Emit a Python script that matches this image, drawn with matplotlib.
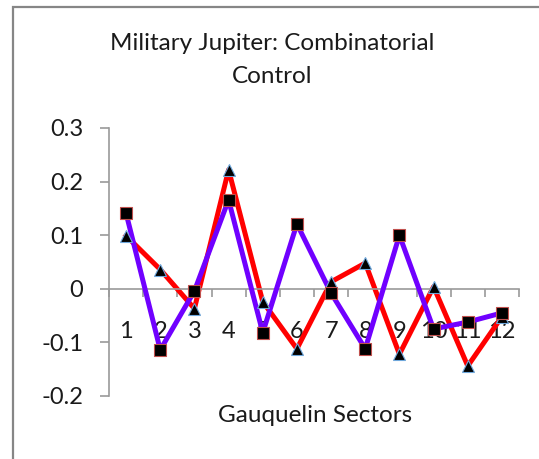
import matplotlib.pyplot as plt
from matplotlib.patches import Rectangle

sectors = [1, 2, 3, 4, 5, 6, 7, 8, 9, 10, 11, 12]
# red line, triangle markers
series_a = [0.099, 0.036, -0.037, 0.222, -0.024, -0.112, 0.013, 0.048, -0.122, 0.004, -0.144, -0.052]
# purple line, square markers
series_b = [0.141, -0.114, -0.004, 0.166, -0.082, 0.121, -0.008, -0.112, 0.100, -0.075, -0.062, -0.045]
y_ticks = [-0.2, -0.1, 0, 0.1, 0.2, 0.3]
y_labels = ["-0.2", "-0.1", "0", "0.1", "0.2", "0.3"]

plt.rcParams["font.family"] = ["Lato", "DejaVu Sans"]
text_color = "#1a1a1a"
axis_color = "#9a9a9a"

W, H = 539, 459
fig = plt.figure(figsize=(W / 100, H / 100), dpi=100)

# chart border (only top and left visible in the reference)
fig.patches.append(Rectangle((13 / W, -0.1), 1.2, (H - 7) / H + 0.1,
                             transform=fig.transFigure, fill=False,
                             edgecolor="#868686", linewidth=1.6))

ax = fig.add_axes([109 / W, 63 / H, 410 / W, 268 / H])
ax.set_xlim(0.5, 12.5)
ax.set_ylim(-0.2, 0.3)

ax.plot(sectors, series_a, color="#ff0000", linewidth=3.6, zorder=2)
ax.plot(sectors, series_b, color="#7000ff", linewidth=3.6, zorder=3)
ax.plot(sectors, series_a, linestyle="none", marker="^", markersize=8.5,
        markerfacecolor="black", markeredgecolor="#6fa8dc", markeredgewidth=0.8, zorder=4)
ax.plot(sectors, series_b, linestyle="none", marker="s", markersize=8,
        markerfacecolor="black", markeredgecolor="#c0504d", markeredgewidth=0.8, zorder=5)

for s in ["top", "right"]:
    ax.spines[s].set_visible(False)
ax.spines["bottom"].set_position(("data", 0))
ax.spines["bottom"].set_color(axis_color)
ax.spines["left"].set_color(axis_color)
ax.spines["bottom"].set_linewidth(1.2)
ax.spines["left"].set_linewidth(1.2)

ax.set_yticks(y_ticks)
ax.set_yticklabels(y_labels)
ax.tick_params(axis="y", direction="out", length=6.5, width=1.2, color=axis_color,
               pad=12, labelsize=17, labelcolor=text_color)

ax.set_xticks([i + 0.5 for i in range(0, 13)])
ax.set_xticklabels([])
ax.tick_params(axis="x", which="major", direction="out", length=6, width=1.2, color=axis_color)
ax.set_xticks(sectors, minor=True)
ax.set_xticklabels([str(s) for s in sectors], minor=True)
ax.tick_params(axis="x", which="minor", length=0, pad=23, labelsize=17, labelcolor=text_color)

fig.text(272 / W, 1 - 60 / H, "Military Jupiter: Combinatorial\nControl", ha="center",
         va="center", fontsize=17.5, color=text_color, linespacing=1.65)
fig.text(315 / W, 1 - 416 / H, "Gauquelin Sectors", ha="center", va="center",
         fontsize=17.5, color=text_color)

fig.savefig("out.png", dpi=100)
